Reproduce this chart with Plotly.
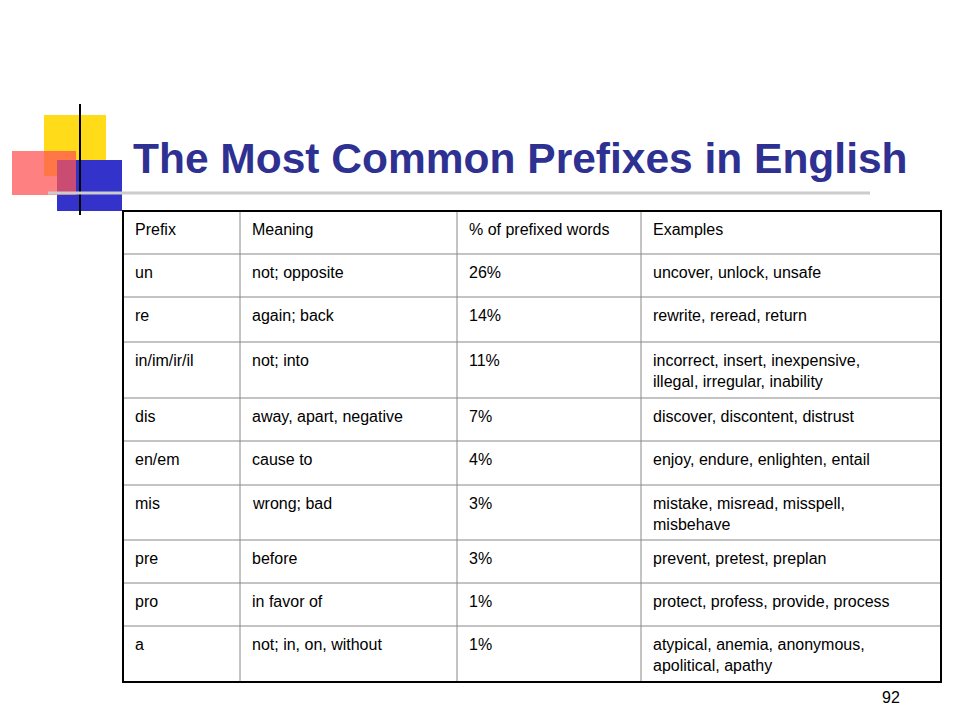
import plotly.graph_objects as go

title = "The Most Common Prefixes in English"
headers = ["Prefix", "Meaning", "% of prefixed words", "Examples"]
prefixes = ["un", "re", "in/im/ir/il", "dis", "en/em", "mis", "pre", "pro", "a"]
meanings = ["not; opposite", "again; back", "not; into", "away, apart, negative", "cause to",
            "wrong; bad", "before", "in favor of", "not; in, on, without"]
percents = ["26%", "14%", "11%", "7%", "4%", "3%", "3%", "1%", "1%"]
examples = ["uncover, unlock, unsafe", "rewrite, reread, return",
            "incorrect, insert, inexpensive,<br>illegal, irregular, inability",
            "discover, discontent, distrust", "enjoy, endure, enlighten, entail",
            "mistake, misread, misspell,<br>misbehave", "prevent, pretest, preplan",
            "protect, profess, provide, process",
            "atypical, anemia, anonymous,<br>apolitical, apathy"]
page_number = "92"

col_x = [123, 240, 457, 641, 941]
row_y = [211, 254, 297, 342, 398, 441, 485, 540, 583, 626, 682]

fig = go.Figure()
shapes = []
ann = []

# decorative squares
shapes.append(dict(type="rect", x0=44, x1=106, y0=115, y1=176, fillcolor="#FFD700", line_width=0, opacity=0.9))
shapes.append(dict(type="rect", x0=57, x1=122, y0=160, y1=211, fillcolor="#3333CC", line_width=0))
shapes.append(dict(type="rect", x0=12, x1=76, y0=151, y1=195, fillcolor="#FF5555", line_width=0, opacity=0.75))
shapes.append(dict(type="line", x0=80, x1=80, y0=104, y1=215, line=dict(color="black", width=2)))
shapes.append(dict(type="line", x0=48, x1=870, y0=193, y1=193, line=dict(color="#CCCCCC", width=3)))

# table grid
for x in col_x[1:-1]:
    shapes.append(dict(type="line", x0=x, x1=x, y0=row_y[0], y1=row_y[-1], line=dict(color="#888888", width=1)))
for y in row_y[1:-1]:
    shapes.append(dict(type="line", x0=col_x[0], x1=col_x[-1], y0=y, y1=y, line=dict(color="#888888", width=1)))
shapes.append(dict(type="rect", x0=col_x[0], x1=col_x[-1], y0=row_y[0], y1=row_y[-1], line=dict(color="black", width=2)))

rows = [headers] + [list(r) for r in zip(prefixes, meanings, percents, examples)]
for i, row in enumerate(rows):
    for j, txt in enumerate(row):
        ann.append(dict(x=col_x[j] + 10, y=row_y[i] + 8, text=txt, showarrow=False,
                        xanchor="left", yanchor="top", align="left",
                        font=dict(family="Liberation Sans, Arial", size=16, color="black")))

ann.append(dict(x=131, y=158, text="<b>" + title + "</b>", showarrow=False, xanchor="left", yanchor="middle",
                font=dict(family="Liberation Sans, Arial", size=42.5, color="#2E3192")))
ann.append(dict(x=902, y=697, text=page_number, showarrow=False, xanchor="right", yanchor="middle",
                font=dict(family="Liberation Sans, Arial", size=16, color="black")))

# page body has an 8px margin, so shift the ranges to compensate
fig.update_layout(width=960, height=720, margin=dict(l=0, r=0, t=0, b=0),
                  paper_bgcolor="white", plot_bgcolor="white", shapes=shapes, annotations=ann,
                  xaxis=dict(range=[8, 968], visible=False, fixedrange=True),
                  yaxis=dict(range=[728, 8], visible=False, fixedrange=True), showlegend=False)
fig.write_html("out.html")
